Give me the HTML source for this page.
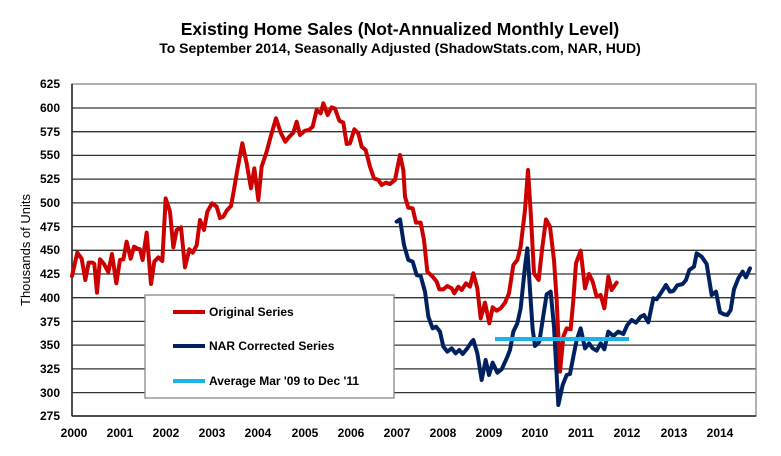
<!DOCTYPE html>
<html><head><meta charset="utf-8"><style>
body{margin:0;background:#fff}
svg{display:block;font-family:"Liberation Sans",Arial,sans-serif}
</style></head><body>
<svg width="781" height="456" viewBox="0 0 781 456">
<rect width="781" height="456" fill="#fff"/>
<text x="400" y="35" text-anchor="middle" font-size="17.5" font-weight="bold">Existing Home Sales (Not-Annualized Monthly Level)</text>
<text x="400" y="53" text-anchor="middle" font-size="14" font-weight="bold">To September 2014, Seasonally Adjusted (ShadowStats.com, NAR, HUD)</text>
<g stroke="#333" stroke-width="1.3">
<line x1="72" y1="108" x2="756" y2="108"/><line x1="72" y1="131.7" x2="756" y2="131.7"/>
<line x1="72" y1="155.4" x2="756" y2="155.4"/><line x1="72" y1="179.1" x2="756" y2="179.1"/>
<line x1="72" y1="202.9" x2="756" y2="202.9"/><line x1="72" y1="226.6" x2="756" y2="226.6"/>
<line x1="72" y1="250.3" x2="756" y2="250.3"/><line x1="72" y1="274" x2="756" y2="274"/>
<line x1="72" y1="297.7" x2="756" y2="297.7"/><line x1="72" y1="321.4" x2="756" y2="321.4"/>
<line x1="72" y1="345.1" x2="756" y2="345.1"/><line x1="72" y1="368.9" x2="756" y2="368.9"/>
<line x1="72" y1="392.6" x2="756" y2="392.6"/>
</g>
<rect x="72" y="84" width="684" height="332" fill="none" stroke="#888" stroke-width="1.3"/>
<line x1="72" y1="84" x2="72" y2="416" stroke="#222" stroke-width="1.5"/>
<line x1="72" y1="416" x2="756" y2="416" stroke="#222" stroke-width="1.5"/>
<g font-size="12" font-weight="bold" text-anchor="end">
<text x="60" y="88">625</text><text x="60" y="112">600</text><text x="60" y="136">575</text><text x="60" y="159">550</text><text x="60" y="183">525</text><text x="60" y="207">500</text><text x="60" y="231">475</text><text x="60" y="254">450</text><text x="60" y="278">425</text><text x="60" y="302">400</text><text x="60" y="326">375</text><text x="60" y="349">350</text><text x="60" y="373">325</text><text x="60" y="397">300</text><text x="60" y="420">275</text>
</g>
<g font-size="12" font-weight="bold" text-anchor="middle">
<text x="74" y="437">2000</text><text x="120" y="437">2001</text><text x="166" y="437">2002</text><text x="212" y="437">2003</text><text x="258" y="437">2004</text><text x="305" y="437">2005</text><text x="351" y="437">2006</text><text x="397" y="437">2007</text><text x="443" y="437">2008</text><text x="489" y="437">2009</text><text x="535" y="437">2010</text><text x="581" y="437">2011</text><text x="627" y="437">2012</text><text x="674" y="437">2013</text><text x="720" y="437">2014</text>
</g>
<text transform="translate(30,250) rotate(-90)" text-anchor="middle" font-size="13">Thousands of Units</text>
<g fill="none" stroke-linejoin="round" stroke-linecap="round" stroke-width="12">
<polyline transform="translate(0,60) scale(0.33333)" stroke="#cc0000" points="216,648 232,578 245,596 256,660 266,608 278,608 283,612 291,698 300,598 312,612 325,636 336,582 349,670 360,600 370,598 380,545 392,596 402,560 413,566 420,568 428,600 440,518 453,672 463,605 475,592 487,603 497,415 510,455 520,562 530,510 543,502 555,622 568,568 578,578 590,556 600,480 612,510 622,455 636,430 650,440 660,474 670,470 680,452 693,438 700,400 712,330 727,250 740,310 753,385 763,325 775,420 785,320 800,275 812,230 828,175 843,220 856,245 868,230 880,218 890,185 900,225 915,212 927,210 938,200 950,150 962,160 970,130 983,165 995,142 1005,146 1018,182 1030,188 1040,252 1050,250 1063,208 1075,220 1085,260 1097,270 1110,320 1122,355 1135,360 1145,375 1158,368 1170,372"/>
<polyline transform="translate(390,60) scale(0.33333)" stroke="#cc0000" points="0,372 15,360 30,285 40,330 45,410 55,443 68,445 78,488 92,488 102,540 112,635 128,650 140,665 148,688 160,688 172,678 185,685 193,700 205,680 215,690 228,670 240,680 250,640 262,685 272,775 285,728 298,790 308,742 320,752 332,745 345,728 357,700 370,615 382,600 392,560 405,450 414,330 422,455 432,640 446,660 456,570 468,478 480,500 492,600 500,720 510,935 520,830 530,805 542,808 550,720 558,610 572,572 585,685 597,642 608,665 620,710 632,705 643,745 655,650 665,690 680,668"/>
<polyline transform="translate(390,60) scale(0.33333)" stroke="#002060" points="20,485 30,478 42,555 55,600 68,605 80,645 92,648 105,695 115,770 128,805 138,800 150,815 160,860 172,875 185,865 197,880 208,870 218,882 232,865 245,845 250,840 262,880 275,960 287,900 297,945 308,908 322,938 335,928 350,895 360,870 370,815 382,790 392,745 405,620 412,565 420,690 428,808 435,858 448,845 458,780 470,703 482,695 492,800 505,1035 518,975 530,945 540,942 550,890 560,840 572,805 585,865 597,850 608,865 620,872 632,850 643,868 655,815 670,828 685,815 700,822 712,795 725,780 738,788 752,770 762,765 775,787 790,715 800,718 812,700 828,675 840,695 850,693 862,676 878,672 888,660 898,630 912,620 920,580 935,590 950,612 965,705 978,695 990,757 1002,763 1012,765 1022,750 1032,688 1045,655 1058,635 1068,652 1080,625"/>
</g>
<line x1="495" y1="339" x2="629" y2="339" stroke="#1ab4ea" stroke-width="4"/>
<rect x="145" y="295" width="249" height="103" fill="#fff" stroke="#888" stroke-width="1.3"/>
<line x1="173" y1="312" x2="205" y2="312" stroke="#cc0000" stroke-width="4"/>
<line x1="173" y1="346" x2="205" y2="346" stroke="#002060" stroke-width="4"/>
<line x1="173" y1="381" x2="205" y2="381" stroke="#1ab4ea" stroke-width="4"/>
<g font-size="12" font-weight="bold">
<text x="209" y="316">Original Series</text>
<text x="209" y="350">NAR Corrected Series</text>
<text x="209" y="385">Average Mar '09 to Dec '11</text>
</g>
</svg>
</body></html>
